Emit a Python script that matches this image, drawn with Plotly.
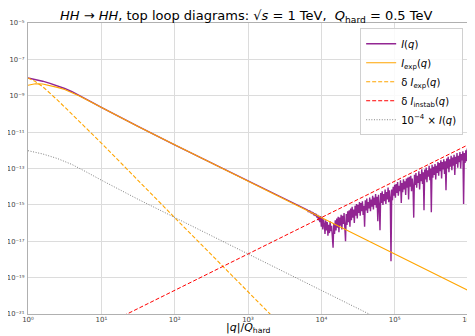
import plotly.graph_objects as go

# ---- data (log10 values) ----
# I(q): smooth part then the noisy part (step 0.01 in log10 q)
I_SMOOTH_LOGQ = [0.0, 0.1, 0.2, 0.3, 0.4, 0.5, 0.6, 0.7, 0.8, 0.9, 1.0, 1.2, 1.5, 2.0, 3.0, 3.78]
I_SMOOTH_LOGV = [-8.02, -8.10, -8.20, -8.32, -8.45, -8.60, -8.78, -8.98, -9.20, -9.42, -9.64,
                 -10.07, -10.69, -11.70, -13.70, -15.26]

I_NOISE_LOGQ = [
    3.80, 3.81, 3.82, 3.83, 3.84, 3.85, 3.86, 3.87, 3.88, 3.89, 3.90, 3.91, 3.92, 3.93, 3.94, 3.95, 3.96, 3.97, 3.98, 3.99,
    4.00, 4.01, 4.02, 4.03, 4.04, 4.05, 4.06, 4.07, 4.08, 4.09, 4.10, 4.11, 4.12, 4.13, 4.14, 4.15, 4.16, 4.17, 4.18, 4.19,
    4.20, 4.21, 4.22, 4.23, 4.24, 4.25, 4.26, 4.27, 4.28, 4.29, 4.30, 4.31, 4.32, 4.33, 4.34, 4.35, 4.36, 4.37, 4.38, 4.39,
    4.40, 4.41, 4.42, 4.43, 4.44, 4.45, 4.46, 4.47, 4.48, 4.49, 4.50, 4.51, 4.52, 4.53, 4.54, 4.55, 4.56, 4.57, 4.58, 4.59,
    4.60, 4.61, 4.62, 4.63, 4.64, 4.65, 4.66, 4.67, 4.68, 4.69, 4.70, 4.71, 4.72, 4.73, 4.74, 4.75, 4.76, 4.77, 4.78, 4.79,
    4.80, 4.81, 4.82, 4.83, 4.84, 4.85, 4.86, 4.87, 4.88, 4.89, 4.90, 4.91, 4.92, 4.93, 4.94, 4.95, 4.96, 4.97, 4.98, 4.99,
    5.00, 5.01, 5.02, 5.03, 5.04, 5.05, 5.06, 5.07, 5.08, 5.09, 5.10, 5.11, 5.12, 5.13, 5.14, 5.15, 5.16, 5.17, 5.18, 5.19,
    5.20, 5.21, 5.22, 5.23, 5.24, 5.25, 5.26, 5.27, 5.28, 5.29, 5.30, 5.31, 5.32, 5.33, 5.34, 5.35, 5.36, 5.37, 5.38, 5.39,
    5.40, 5.41, 5.42, 5.43, 5.44, 5.45, 5.46, 5.47, 5.48, 5.49, 5.50, 5.51, 5.52, 5.53, 5.54, 5.55, 5.56, 5.57, 5.58, 5.59,
    5.60, 5.61, 5.62, 5.63, 5.64, 5.65, 5.66, 5.67, 5.68, 5.69, 5.70, 5.71, 5.72, 5.73, 5.74, 5.75, 5.76, 5.77, 5.78, 5.79,
    5.80, 5.81, 5.82, 5.83, 5.84, 5.85, 5.86, 5.87, 5.88, 5.89, 5.90, 5.91, 5.92, 5.93, 5.94, 5.95, 5.96, 5.97, 5.98, 5.99,
    6.00]
I_NOISE_LOGV = [
    -15.30, -15.28, -15.36, -15.30, -15.40, -15.33, -15.47, -15.38, -15.50, -15.42, -15.58, -15.46, -15.62, -15.50, -15.70, -15.55, -15.85, -15.60, -15.95, -15.62,
    -16.20, -15.70, -16.35, -15.80, -16.05, -16.60, -15.85, -16.40, -15.95, -16.70, -16.10, -16.55, -15.90, -16.45, -16.15, -16.80, -17.35, -16.05, -16.60, -15.85,
    -16.40, -15.75, -16.25, -15.65, -16.50, -15.70, -16.15, -15.55, -16.35, -15.60, -16.05, -15.45, -16.25, -17.00, -15.50, -16.10, -15.35, -15.95, -15.30, -16.20,
    -15.20, -15.85, -15.10, -15.70, -15.25, -16.00, -15.05, -15.60, -14.95, -15.75, -15.00, -15.45, -14.85, -15.60, -14.90, -15.35, -14.80, -15.55, -15.05, -16.20,
    -14.75, -15.30, -14.65, -15.45, -14.85, -15.20, -14.60, -15.35, -14.70, -15.10, -14.50, -15.25, -14.60, -15.00, -14.40, -15.15, -14.55, -15.90, -14.45, -15.05,
    -16.40, -14.35, -14.90, -14.25, -15.00, -14.40, -14.80, -14.15, -14.95, -14.30, -14.70, -14.05, -14.85, -14.20, -14.60, -18.10, -14.15, -14.75, -14.00, -14.50,
    -13.90, -14.60, -13.85, -14.35, -13.75, -14.50, -13.95, -14.25, -13.65, -14.90, -13.80, -14.30, -13.60, -14.15, -13.70, -14.45, -13.55, -14.05, -13.50, -14.70,
    -13.45, -14.00, -13.40, -14.25, -13.55, -13.95, -15.70, -13.35, -13.90, -13.25, -14.05, -13.40, -13.80, -13.15, -14.15, -13.30, -13.70, -13.05, -13.85, -13.20,
    -15.30, -13.05, -13.60, -12.95, -13.75, -13.10, -13.45, -12.85, -13.65, -13.00, -15.40, -12.80, -13.50, -12.90, -13.35, -12.75, -13.60, -12.85, -13.25, -12.65,
    -13.40, -12.70, -13.15, -12.55, -13.55, -12.65, -13.05, -12.50, -13.30, -12.60, -14.20, -12.45, -13.00, -12.35, -13.20, -12.50, -12.90, -12.30, -13.10, -12.40,
    -12.85, -12.25, -13.35, -12.35, -12.75, -12.15, -12.95, -12.30, -12.65, -12.10, -13.00, -12.20, -12.55, -12.05, -14.95, -12.15, -12.70, -12.00, -12.60, -11.90,
    -12.20]

IEXP_LOGQ = [0.0, 0.1, 0.2, 0.3, 0.4, 0.5, 0.6, 0.7, 0.8, 0.9, 1.0, 1.2, 1.5, 2.0, 3.0, 4.0, 5.0, 6.0]
IEXP_LOGV = [-8.42, -8.34, -8.35, -8.43, -8.54, -8.66, -8.83, -9.02, -9.22, -9.43, -9.65, -10.07, -10.69,
             -11.70, -13.70, -15.70, -17.70, -19.70]

DIEXP_LOGQ = [0.0, 0.1, 0.2, 0.3, 0.4, 0.52, 0.7, 1.0, 2.0, 3.0, 3.35]
DIEXP_LOGV = [-8.02, -8.22, -8.50, -8.85, -9.23, -9.70, -10.40, -11.60, -15.70, -19.75, -21.2]

DINST_LOGQ = [1.30, 6.00]
DINST_LOGV = [-21.10, -11.70]

GREY_LOGQ = [0.0, 0.2, 0.4, 0.6, 0.8, 1.0, 1.5, 2.0, 3.0, 4.0, 4.7]
GREY_LOGV = [-12.02, -12.20, -12.45, -12.78, -13.20, -13.64, -14.69, -15.70, -17.70, -19.70, -21.10]

Y_TICK_EXP = [-5, -7, -9, -11, -13, -15, -17, -19, -21]
X_TICK_EXP = [0, 1, 2, 3, 4, 5, 6]

SUP = str.maketrans("-0123456789", "⁻⁰¹²³⁴⁵⁶⁷⁸⁹")


def p10(vals):
    return [10 ** v for v in vals]


I_LOGQ = I_SMOOTH_LOGQ + I_NOISE_LOGQ
I_LOGV = I_SMOOTH_LOGV + I_NOISE_LOGV

fig = go.Figure()
fig.add_trace(go.Scatter(x=p10(I_LOGQ), y=p10(I_LOGV), mode="lines",
                         line=dict(color="purple", width=1.4), opacity=0.85,
                         name="<i>I</i>(<i>q</i>)"))
fig.add_trace(go.Scatter(x=p10(IEXP_LOGQ), y=p10(IEXP_LOGV), mode="lines",
                         line=dict(color="orange", width=1.1),
                         name="<i>I</i><sub>exp</sub>(<i>q</i>)"))
fig.add_trace(go.Scatter(x=p10(DIEXP_LOGQ), y=p10(DIEXP_LOGV), mode="lines",
                         line=dict(color="orange", width=1.1, dash="4px,2px"),
                         name="δ <i>I</i><sub>exp</sub>(<i>q</i>)"))
fig.add_trace(go.Scatter(x=p10(DINST_LOGQ), y=p10(DINST_LOGV), mode="lines",
                         line=dict(color="red", width=1.0, dash="4px,2px"),
                         name="δ <i>I</i><sub>instab</sub>(<i>q</i>)"))
fig.add_trace(go.Scatter(x=p10(GREY_LOGQ), y=p10(GREY_LOGV), mode="lines",
                         line=dict(color="grey", width=1.0, dash="1px,1.6px"),
                         name="10<sup>−4</sup> × <i>I</i>(<i>q</i>)"))

# the page body adds an 8px offset, so the figure is 467x328 and fits the 475x336 window
fig.update_layout(
    width=467, height=328,
    margin=dict(l=20, r=7, t=15, b=22),
    paper_bgcolor="white", plot_bgcolor="white",
    font=dict(family="DejaVu Sans", color="black"),
    title=dict(text="<i>HH</i> → <i>HH</i>, top loop diagrams: √<i>s</i> = 1 TeV,  <i>Q</i><sub>hard</sub> = 0.5 TeV",
               x=0.51, xanchor="center", y=0.99, yanchor="top", yref="container",
               font=dict(size=13, color="black")),
    legend=dict(x=0.989, xanchor="right", y=0.982, yanchor="top",
                bgcolor="rgba(255,255,255,0.85)", bordercolor="#d0d0d0", borderwidth=1,
                font=dict(size=10, color="black"), tracegroupgap=0,
                itemwidth=30),
    showlegend=True,
    annotations=[dict(text="|<i>q</i>|/<i>Q</i><sub>hard</sub>", x=0.5, xref="paper",
                      y=-0.0756, yref="paper", xanchor="center", yanchor="bottom",
                      showarrow=False, borderpad=0, font=dict(size=11, color="black"))],
)
fig.update_xaxes(type="log", range=[0, 6], automargin=False,
                 tickvals=[10 ** e for e in X_TICK_EXP],
                 ticktext=["10" + str(e).translate(SUP) for e in X_TICK_EXP],
                 tickfont=dict(size=7, color="#444"),
                 showgrid=True, gridcolor="#dcdcdc", gridwidth=1,
                 showline=True, linecolor="#b0b0b0", linewidth=1.3, mirror=True,
                 ticks="", zeroline=False, ticklabelstandoff=-2)
fig.update_yaxes(type="log", range=[-21, -5], automargin=False,
                 tickvals=[10 ** e for e in Y_TICK_EXP],
                 ticktext=["10" + str(e).translate(SUP) for e in Y_TICK_EXP],
                 tickfont=dict(size=6.8, color="#444"),
                 showgrid=True, gridcolor="#dcdcdc", gridwidth=1,
                 showline=True, linecolor="#b0b0b0", linewidth=1.3, mirror=True,
                 ticks="", zeroline=False, ticklabelstandoff=1)

fig.write_html("out.html")
